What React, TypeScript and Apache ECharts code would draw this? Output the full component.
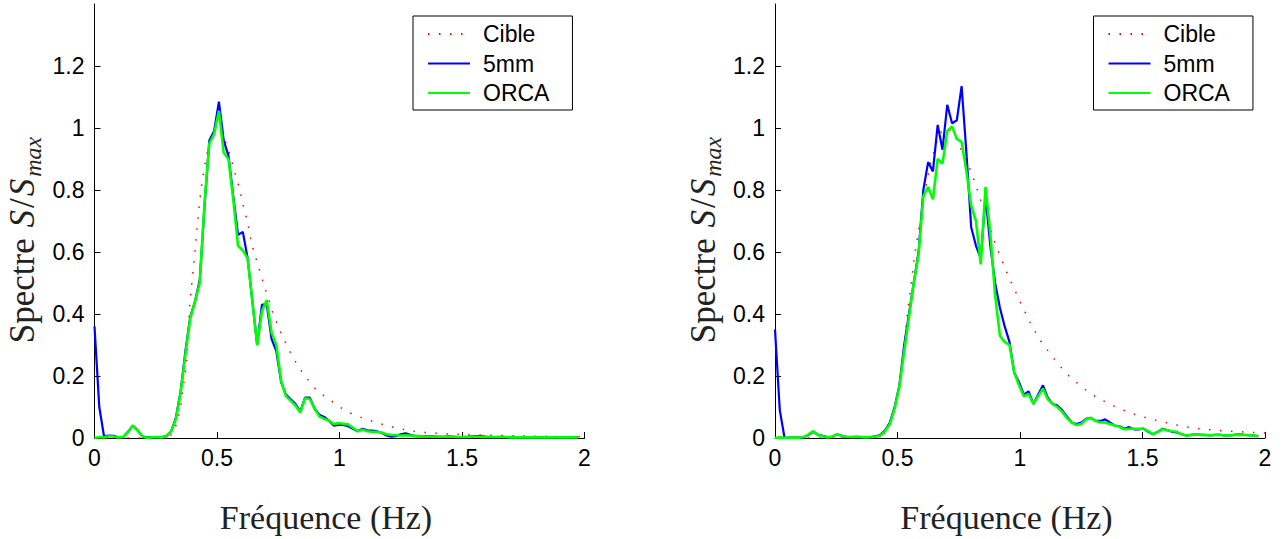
import React, { useEffect, useRef } from "react";
import * as echarts from "echarts";

// frequency resolution of the measured spectra (Hz)
const DF = 0.01953125;

const seriesNames = ["Cible", "5mm", "ORCA"];
const xTicks = [0, 0.5, 1, 1.5, 2];
const yTicks = [0, 0.2, 0.4, 0.6, 0.8, 1, 1.2];

// ---- left panel ----
const cibleLeftF = [0, 0.3, 0.325, 0.35, 0.375, 0.39, 0.4, 0.41, 0.42, 0.43, 0.44, 0.45, 0.46, 0.475, 0.49, 0.5, 0.51, 0.525, 0.54, 0.55, 0.565, 0.575, 0.59, 0.6, 0.61, 0.625, 0.64, 0.65, 0.665, 0.68, 0.695, 0.71, 0.725, 0.74, 0.755, 0.775, 0.8, 0.825, 0.85, 0.875, 0.9, 0.93, 0.975, 1.0, 1.05, 1.1, 1.15, 1.2, 1.25, 1.3, 1.35, 1.4, 1.45, 1.5, 1.6, 1.7, 1.8, 1.9, 2.0];
const cibleLeftS = [0, 0, 0.02, 0.09, 0.24, 0.44, 0.52, 0.6, 0.69, 0.77, 0.83, 0.88, 0.92, 0.965, 0.99, 1.0, 0.995, 0.975, 0.945, 0.92, 0.88, 0.85, 0.81, 0.775, 0.74, 0.695, 0.635, 0.6, 0.565, 0.525, 0.485, 0.45, 0.41, 0.38, 0.35, 0.315, 0.275, 0.24, 0.21, 0.185, 0.16, 0.14, 0.115, 0.1, 0.078, 0.063, 0.05, 0.038, 0.029, 0.022, 0.018, 0.015, 0.013, 0.011, 0.009, 0.007, 0.006, 0.005, 0.004];

const blueLeft = [
  0.36, 0.1, 0.005, 0.008, 0.007, 0.002, 0.003, 0.02, 0.04, 0.025,
  0.005, 0.002, 0.003, 0.003, 0.002, 0.006, 0.02, 0.065, 0.15, 0.28,
  0.39, 0.44, 0.51, 0.75, 0.96, 0.99, 1.085, 0.96, 0.91, 0.78,
  0.655, 0.665, 0.58, 0.44, 0.3, 0.43, 0.43, 0.32, 0.28, 0.18,
  0.14, 0.125, 0.11, 0.085, 0.13, 0.13, 0.095, 0.075, 0.068, 0.056,
  0.04, 0.042, 0.042, 0.038, 0.03, 0.022, 0.03, 0.025, 0.024, 0.022,
  0.017, 0.008, 0.004, 0.006, 0.012, 0.015, 0.01, 0.006, 0.005, 0.005,
  0.006, 0.005, 0.004, 0.004, 0.005, 0.004, 0.003, 0.003, 0.004, 0.005,
  0.006, 0.005, 0.004, 0.003, 0.003, 0.004, 0.003, 0.003, 0.002, 0.003,
  0.003, 0.002, 0.002, 0.002, 0.002, 0.002, 0.002, 0.002, 0.002, 0.002,
  0.002, 0.002,
];
const greenLeft = [
  0.0, 0.003, 0.002, 0.006, 0.005, 0.002, 0.003, 0.02, 0.04, 0.025,
  0.005, 0.001, 0.002, 0.003, 0.002, 0.006, 0.02, 0.06, 0.145, 0.27,
  0.385, 0.44, 0.5, 0.76, 0.95, 0.98, 1.055, 0.92, 0.9, 0.77,
  0.62, 0.605, 0.58, 0.44, 0.3, 0.41, 0.445, 0.34, 0.3, 0.185,
  0.135, 0.12, 0.105, 0.082, 0.128, 0.126, 0.094, 0.07, 0.062, 0.056,
  0.045, 0.048, 0.046, 0.044, 0.033, 0.022, 0.027, 0.022, 0.02, 0.02,
  0.018, 0.012, 0.01, 0.009, 0.008, 0.009, 0.008, 0.007, 0.006, 0.005,
  0.005, 0.005, 0.004, 0.004, 0.004, 0.004, 0.003, 0.003, 0.003, 0.004,
  0.004, 0.003, 0.003, 0.003, 0.003, 0.003, 0.003, 0.002, 0.002, 0.002,
  0.002, 0.002, 0.002, 0.002, 0.002, 0.002, 0.002, 0.002, 0.002, 0.002,
  0.002, 0.002,
];

// ---- right panel ----
const cibleRightF = [0, 0.4, 0.44, 0.46, 0.48, 0.5, 0.52, 0.54, 0.555, 0.57, 0.585, 0.6, 0.62, 0.64, 0.66, 0.68, 0.7, 0.72, 0.74, 0.76, 0.78, 0.8, 0.82, 0.84, 0.86, 0.88, 0.9, 0.92, 0.94, 0.96, 0.98, 1.0, 1.04, 1.08, 1.12, 1.16, 1.2, 1.24, 1.28, 1.32, 1.36, 1.4, 1.45, 1.5, 1.55, 1.6, 1.65, 1.7, 1.75, 1.8, 1.85, 1.9, 1.95, 2.0];
const cibleRightS = [0, 0, 0.008, 0.03, 0.07, 0.14, 0.24, 0.4, 0.49, 0.59, 0.665, 0.73, 0.83, 0.9, 0.955, 0.99, 1.0, 0.99, 0.965, 0.93, 0.895, 0.86, 0.815, 0.765, 0.72, 0.67, 0.625, 0.585, 0.545, 0.51, 0.475, 0.44, 0.375, 0.318, 0.275, 0.235, 0.2, 0.173, 0.148, 0.128, 0.112, 0.097, 0.081, 0.069, 0.058, 0.049, 0.04, 0.033, 0.028, 0.025, 0.022, 0.02, 0.018, 0.016];

const blueRight = [
  0.35, 0.09, 0.0, 0.001, 0.002, 0.001, 0.003, 0.01, 0.02, 0.01,
  0.007, 0.003, 0.004, 0.012, 0.007, 0.003, 0.003, 0.004, 0.003, 0.003,
  0.003, 0.005, 0.01, 0.025, 0.05, 0.1, 0.17, 0.3, 0.4, 0.5,
  0.6, 0.8, 0.89, 0.86, 1.01, 0.93, 1.075, 1.015, 1.025, 1.135,
  0.92, 0.68, 0.62, 0.58, 0.78, 0.62, 0.5, 0.42, 0.36, 0.31,
  0.21, 0.18, 0.14, 0.15, 0.11, 0.14, 0.17, 0.13, 0.11, 0.105,
  0.09, 0.07, 0.05, 0.045, 0.05, 0.062, 0.065, 0.055, 0.055, 0.06,
  0.05, 0.04, 0.038, 0.03, 0.035, 0.028, 0.028, 0.03, 0.02, 0.012,
  0.02, 0.03, 0.025, 0.02, 0.018, 0.012, 0.008, 0.01, 0.012, 0.01,
  0.01, 0.008, 0.01, 0.01, 0.008, 0.008, 0.01, 0.012, 0.01, 0.009,
  0.008, 0.006,
];
const greenRight = [
  0.0, 0.002, 0.001, 0.001, 0.002, 0.001, 0.003, 0.012, 0.022, 0.01,
  0.006, 0.002, 0.005, 0.012, 0.006, 0.004, 0.003, 0.004, 0.003, 0.002,
  0.003, 0.004, 0.008, 0.022, 0.045, 0.095, 0.165, 0.28, 0.39, 0.5,
  0.59, 0.78, 0.81, 0.77, 0.9, 0.885, 0.99, 1.005, 0.965, 0.955,
  0.86, 0.75, 0.7, 0.56, 0.81, 0.66, 0.46, 0.33, 0.31, 0.3,
  0.21, 0.17, 0.135, 0.142, 0.11, 0.135, 0.16, 0.125, 0.11, 0.1,
  0.085, 0.065, 0.05, 0.042, 0.045, 0.06, 0.065, 0.055, 0.05, 0.05,
  0.045, 0.04, 0.036, 0.028, 0.03, 0.03, 0.03, 0.03, 0.022, 0.012,
  0.02, 0.028, 0.025, 0.022, 0.02, 0.012, 0.007, 0.01, 0.012, 0.01,
  0.009, 0.009, 0.01, 0.01, 0.008, 0.008, 0.01, 0.011, 0.01, 0.009,
  0.008, 0.006,
];

const binned = (vals: number[]) => vals.map((v, i) => [i * DF, v]);
const zip = (f: number[], s: number[]) => f.map((x, i) => [x, s[i]]);

const SANS = "Liberation Sans";
const SERIF = "Liberation Serif";

function makeAxes(gridIndex: number) {
  const xAxis = {
    type: "value",
    gridIndex,
    min: 0,
    max: 2,
    interval: 0.5,
    axisLine: { show: true, onZero: false, lineStyle: { color: "#000", width: 1 } },
    axisTick: { show: true, inside: true, length: 6, lineStyle: { color: "#000" }, customValues: xTicks },
    axisLabel: { show: true, color: "#000", fontFamily: SANS, fontSize: 23, margin: 8, customValues: xTicks },
    splitLine: { show: false },
    name: "Fréquence (Hz)",
    nameLocation: "middle",
    nameGap: 62,
    nameTextStyle: { fontFamily: SERIF, fontSize: 34, color: "#222", padding: [0, 27, 0, 0] },
  };
  const yAxis = {
    type: "value",
    gridIndex,
    min: 0,
    max: 1.4,
    interval: 0.2,
    axisLine: { show: true, onZero: false, lineStyle: { color: "#000", width: 1 } },
    axisTick: { show: true, inside: true, length: 6, lineStyle: { color: "#000" }, customValues: yTicks },
    axisLabel: { show: true, color: "#000", fontFamily: SANS, fontSize: 23, margin: 10, customValues: yTicks },
    splitLine: { show: false },
    name: "{r|Spectre }{i|S}{r|/}{i|S}{s|max}",
    nameLocation: "middle",
    nameRotate: 90,
    nameGap: 50,
    nameTextStyle: {
      rich: {
        r: { fontFamily: SERIF, fontSize: 35, color: "#222", lineHeight: 44, verticalAlign: "middle" },
        i: { fontFamily: SERIF, fontSize: 35, fontStyle: "italic", color: "#222", lineHeight: 44, verticalAlign: "middle", padding: [0, 2, 0, 2] },
        s: { fontFamily: SERIF, fontSize: 24, fontStyle: "italic", color: "#222", lineHeight: 44, verticalAlign: "bottom", padding: [0, 38, 0, 0] },
      },
    },
  };
  return { xAxis, yAxis };
}

function makeSeries(gridIndex: number, cible: number[][], blue: number[][], green: number[][]) {
  const common = { type: "line", xAxisIndex: gridIndex, yAxisIndex: gridIndex, symbol: "none", silent: true };
  return [
    { ...common, name: "Cible", data: cible, lineStyle: { color: "#ff0000", width: 1.5, type: [1.5, 9.5] }, itemStyle: { color: "#ff0000" } },
    { ...common, name: "5mm", data: blue, lineStyle: { color: "#0000ff", width: 2.2 }, itemStyle: { color: "#0000ff" } },
    { ...common, name: "ORCA", data: green, lineStyle: { color: "#00ff00", width: 2.6 }, itemStyle: { color: "#00ff00" } },
  ];
}

function makeLegend(left: number) {
  return {
    left,
    top: 16,
    orient: "vertical",
    backgroundColor: "#fff",
    borderColor: "#000",
    borderWidth: 1,
    borderRadius: 0,
    padding: [6.5, 23, 5.5, 14],
    itemWidth: 42,
    itemHeight: 14,
    itemGap: 6.5,
    selectedMode: false,
    itemStyle: { opacity: 0 },
    textStyle: { fontFamily: SANS, fontSize: 23, color: "#000", padding: [0, 0, 0, 8] },
    data: seriesNames,
  };
}

export default function App() {
  const ref = useRef<HTMLDivElement>(null);
  useEffect(() => {
    document.body.style.margin = "0";
    if (!ref.current) return;
    const chart = echarts.init(ref.current, undefined, { renderer: "svg" });
    const a0 = makeAxes(0);
    const a1 = makeAxes(1);
    chart.setOption({
      animation: false,
      backgroundColor: "#fff",
      grid: [
        { left: 94.5, top: 4, width: 490, height: 435 },
        { left: 775, top: 4, width: 490, height: 435 },
      ],
      xAxis: [a0.xAxis, a1.xAxis],
      yAxis: [a0.yAxis, a1.yAxis],
      legend: [makeLegend(413), makeLegend(1093.5)],
      series: [
        ...makeSeries(0, zip(cibleLeftF, cibleLeftS), binned(blueLeft), binned(greenLeft)),
        ...makeSeries(1, zip(cibleRightF, cibleRightS), binned(blueRight), binned(greenRight)),
      ],
    });
    return () => chart.dispose();
  }, []);
  return <div ref={ref} style={{ position: "fixed", left: 0, top: 0, width: 1282, height: 539 }} />;
}
